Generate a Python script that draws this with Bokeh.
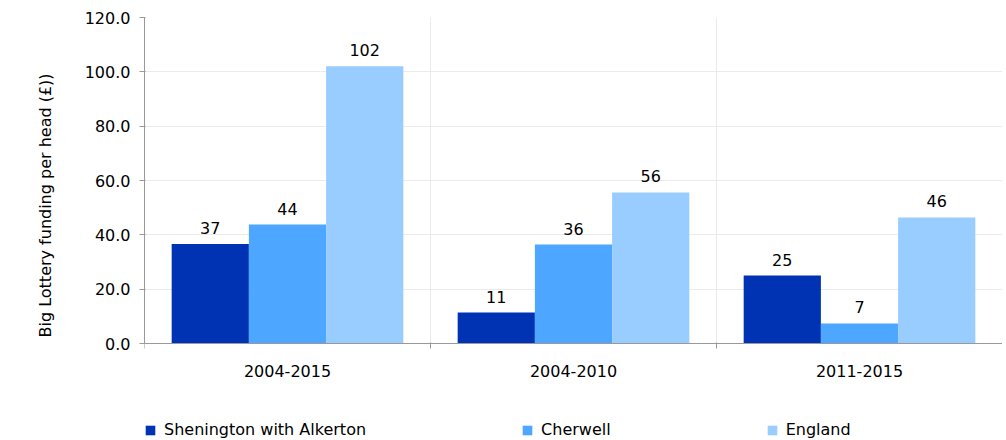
import numpy as np
from bokeh.plotting import figure
from bokeh.models import (Range1d, FixedTicker, ColumnDataSource, LabelSet, Legend,
                          LegendItem, NumeralTickFormatter, Title)
from bokeh.core.properties import value
from bokeh.embed import file_html
from bokeh.resources import INLINE

categories = ["2004-2015", "2004-2010", "2011-2015"]
series_names = ["Shenington with Alkerton", "Cherwell", "England"]
shenington = [36.6, 11.4, 25.0]
cherwell = [43.8, 36.4, 7.4]
england = [102.1, 55.6, 46.4]
y_ticks = [0, 20, 40, 60, 80, 100, 120]
y_title = "Big Lottery funding per head (£))"

colors = ["#0033B3", "#4DA6FF", "#99CCFF"]
FONT = "DejaVu Sans"
FS = "16px"
GRAY = "#999999"
GRID = "#EBEBEB"

Y_MIN, Y_MAX = 0, 120
BOTTOM_SPACE = -35.7  # room under the zero line for category labels and legend

p = figure(width=1002, height=440, output_backend="svg", toolbar_location=None,
           x_range=Range1d(0, len(categories)), y_range=Range1d(BOTTOM_SPACE, Y_MAX),
           min_border_left=144, min_border_right=0, min_border_top=17, min_border_bottom=0)
p.outline_line_color = None

# vertical separators between category groups
bounds_x = list(range(1, len(categories)))
p.segment(x0=bounds_x, y0=Y_MIN, x1=bounds_x, y1=Y_MAX, line_color=GRID, line_width=1)

idx = np.arange(len(categories)) + 0.5
bw = 0.27
offsets = [-bw, 0.0, bw]
renderers = []
for vals, off, col, name in zip([shenington, cherwell, england], offsets, colors, series_names):
    src = ColumnDataSource(dict(x=idx + off, top=vals,
                                lab=[str(int(round(v))) for v in vals]))
    r = p.vbar(x="x", top="top", bottom=0, width=bw, source=src, fill_color=col, line_color=None)
    renderers.append(r)
    p.add_layout(LabelSet(x="x", y="top", text="lab", source=src, text_align="center",
                          text_baseline="bottom", y_offset=10, text_font=value(FONT),
                          text_font_size=value(FS), text_color="#000000"))

# x axis
p.xaxis.fixed_location = 0
p.xaxis.ticker = FixedTicker(ticks=list(idx), minor_ticks=list(range(len(categories) + 1)))
p.xaxis.major_label_overrides = {float(t): c for t, c in zip(idx, categories)}
p.xaxis.major_tick_out = 0
p.xaxis.major_tick_in = 0
p.xaxis.minor_tick_out = 5
p.xaxis.minor_tick_in = 1
p.xaxis.minor_tick_line_color = GRAY
p.xaxis.axis_line_color = GRAY
p.xaxis.major_label_standoff = 16
p.xaxis.major_label_text_font = FONT
p.xaxis.major_label_text_font_size = FS
p.xaxis.major_label_text_color = "#000000"

# y axis
p.yaxis.bounds = (Y_MIN, Y_MAX)
p.yaxis.ticker = FixedTicker(ticks=y_ticks, minor_ticks=[])
p.yaxis.formatter = NumeralTickFormatter(format="0.0")
p.yaxis.major_tick_out = 5
p.yaxis.major_tick_in = 1
p.yaxis.major_tick_line_color = GRAY
p.yaxis.axis_line_color = GRAY
p.yaxis.major_label_standoff = 9
p.yaxis.major_label_text_font = FONT
p.yaxis.major_label_text_font_size = FS
p.yaxis.major_label_text_color = "#000000"

p.add_layout(Title(text=y_title, align="left", offset=83, padding=20, vertical_align="top",
                   text_font=FONT, text_font_size=FS, text_font_style="normal",
                   text_color="#000000"), "left")

p.ygrid.ticker = FixedTicker(ticks=y_ticks[1:])
p.ygrid.grid_line_color = GRID
p.xgrid.visible = False

legend = Legend(items=[LegendItem(label=n, renderers=[r]) for n, r in zip(series_names, renderers)],
                orientation="horizontal", location=(0, 1), spacing=155,
                glyph_width=12, glyph_height=12, label_standoff=8, padding=0, margin=0,
                border_line_color=None, background_fill_alpha=0,
                label_text_font=FONT, label_text_font_size=FS, label_text_color="#000000")
p.add_layout(legend, "center")

open("out.html", "w").write(file_html(p, INLINE))
